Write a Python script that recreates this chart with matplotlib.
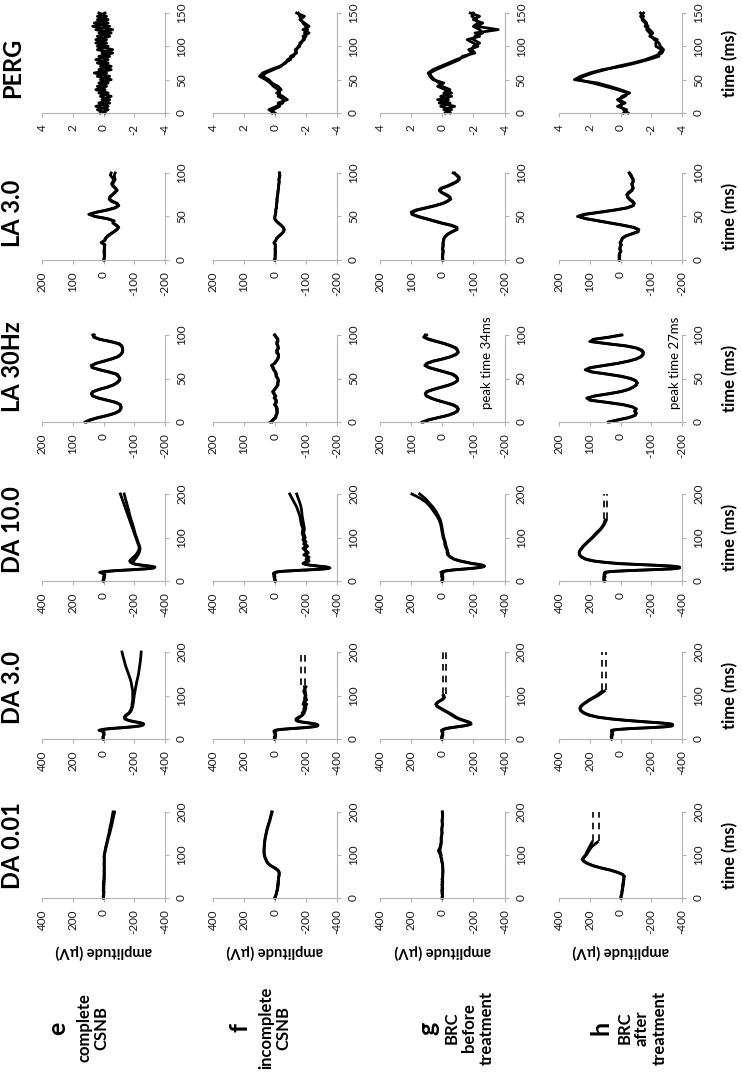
import numpy as np
import matplotlib.pyplot as plt

plt.rcParams['font.family'] = ['Lato', 'DejaVu Sans']
plt.rcParams['axes.unicode_minus'] = False

nan = np.nan

# protocols (one column each, drawn rotated) and patient groups
columns = ['PERG', 'LA 3.0', 'LA 30Hz', 'DA 10.0', 'DA 3.0', 'DA 0.01']
rows = ['e', 'f', 'g', 'h']
row_text = ['complete\nCSNB', 'incomplete\nCSNB', 'BRC\nbefore\ntreatment', 'BRC\nafter\ntreatment']

time_max = [150, 100, 100, 200, 200, 200]
time_step = [50, 50, 50, 100, 100, 100]
amp_max = [4, 200, 200, 400, 400, 400]

# time samples (ms)
t_perg = [0, 5, 10, 15, 20, 25, 30, 35, 40, 45, 50, 55, 60, 65, 70, 75, 80, 85, 90, 95,
          100, 105, 110, 115, 120, 125, 130, 135, 140, 145, 150]
t_la = [0, 2.5, 5, 7.5, 10, 12.5, 15, 17.5, 20, 22.5, 25, 27.5, 30, 32.5, 35, 37.5, 40, 42.5, 45, 47.5,
        50, 52.5, 55, 57.5, 60, 62.5, 65, 67.5, 70, 72.5, 75, 77.5, 80, 82.5, 85, 87.5, 90, 92.5, 95, 97.5, 100]
t_da = [0, 5, 10, 15, 18, 20, 22, 24, 26, 28, 30, 32, 34, 36, 38, 40, 43, 46, 50, 55,
        60, 65, 70, 75, 80, 85, 90, 95, 100, 110, 120, 130, 140, 150, 160, 170, 180, 190, 200]

# PERG (uV), two recordings per patient
perg_e1 = [0.2, -0.3, 0.5, -0.4, 0.1, -0.5, 0.3, -0.1, 0.4, -0.3, 0.2, -0.4, 0.6, -0.5, 0.2, -0.3,
           0.5, -0.4, 0.1, -0.6, 0.4, -0.2, 0.5, -0.4, 0.3, -0.6, 0.7, -0.3, 0.4, -0.2, 0.3]
perg_e2 = [-0.1, 0.4, -0.3, 0.3, -0.4, 0.2, -0.3, 0.5, -0.2, 0.3, -0.5, 0.4, -0.2, 0.3, -0.5, 0.4,
           -0.3, 0.3, -0.6, 0.4, -0.3, 0.5, -0.2, 0.4, -0.5, 0.5, -0.4, 0.6, -0.3, 0.4, -0.1]
perg_f1 = [0.0, 0.4, -0.1, -0.5, -0.6, -0.2, -0.3, -0.2, 0.1, 0.3, 0.6, 1.0, 0.8, 0.3, -0.3, -0.7,
           -0.8, -1.2, -1.3, -1.4, -1.5, -1.7, -1.8, -2.0, -1.9, -2.1, -2.0, -1.8, -1.7, -1.6, -1.5]
perg_f2 = [0.2, 0.1, -0.3, -0.2, -0.8, -0.5, -0.1, -0.4, -0.2, 0.2, 0.4, 0.8, 0.6, 0.1, -0.4, -0.6,
           -1.0, -1.0, -1.4, -1.3, -1.6, -1.6, -1.9, -1.8, -2.2, -1.8, -2.2, -1.9, -1.6, -1.9, -1.4]
perg_g1 = [-0.5, -0.1, -0.8, 0.2, -0.4, 0.1, -0.6, -0.2, 0.3, -0.1, 0.6, 0.8, 0.9, 0.6, 0.1, -0.4,
           -0.9, -1.5, -1.9, -1.7, -2.3, -2.0, -1.6, -2.4, -2.1, -3.6, -2.2, -2.6, -2.0, -2.4, -1.8]
perg_g2 = [-0.2, -0.6, 0.1, -0.5, 0.3, -0.6, -0.1, -0.5, 0.0, 0.2, 0.5, 0.7, 0.8, 0.4, -0.1, -0.6,
           -1.1, -1.3, -2.1, -1.9, -2.0, -2.4, -2.0, -2.1, -2.6, -2.4, -2.0, -2.3, -2.2, -1.9, -2.0]
perg_h1 = [-0.5, -0.2, 0.0, -0.1, 0.2, -0.3, -0.5, 0.2, 1.0, 1.8, 2.8, 2.4, 1.8, 1.0, 0.2, -0.8,
           -1.6, -2.2, -2.7, -2.8, -2.6, -2.5, -2.2, -2.0, -1.9, -1.7, -1.8, -1.6, -1.4, -1.5, -1.3]
perg_h2 = [-0.2, -0.4, 0.2, -0.3, 0.1, -0.1, -0.6, 0.0, 0.7, 1.5, 3.0, 2.6, 2.0, 1.2, -0.1, -1.0,
           -1.8, -2.5, -2.5, -2.7, -2.3, -2.3, -2.4, -1.9, -2.1, -1.9, -1.6, -1.7, -1.5, -1.3, -1.5]

# LA 3.0
la3_e1 = [-2, -3, -2, -4, -3, -2, -4, -3, 5, -5, -8, -15, -25, -35, -45, -48, -40, -32, -35, -10,
          30, 45, 20, -15, -40, -50, -42, -25, -18, -22, -30, -38, -42, -38, -30, -26, -30, -33, -28, -22, -25]
la3_e2 = [0, -2, -4, -2, -1, -4, -2, -5, 8, -3, -6, -12, -22, -33, -42, -50, -43, -30, -33, -14,
          25, 48, 24, -10, -36, -48, -45, -30, -20, -20, -28, -35, -45, -40, -33, -30, -34, -38, -36, -35, -38]
la3_f1 = [0, -1, 0, -2, 0, -1, -2, 0, 4, -2, -5, -12, -20, -27, -29, -26, -19, -10, -3, 2,
          1, -1, -2, -3, -4, -5, -5, -6, -7, -7, -8, -9, -10, -11, -12, -12, -13, -13, -14, -14, -15]
la3_f2 = [2, 0, -1, 0, -2, 0, -1, -2, 2, -3, -6, -14, -22, -28, -30, -27, -20, -12, -4, 0,
          0, -2, -3, -2, -5, -4, -6, -7, -6, -8, -9, -10, -10, -12, -11, -13, -14, -12, -15, -16, -14]
la3_g1 = [0, -2, 0, -3, -2, 0, -3, -2, -3, -4, -5, -10, -18, -30, -45, -48, -30, 0, 25, 50,
          75, 95, 100, 85, 55, 25, 0, -15, -25, -25, -15, 0, 10, 5, -15, -30, -45, -52, -55, -48, -35]
la3_g2 = [-3, 0, -2, -1, -4, -2, -1, -4, -2, -5, -6, -12, -20, -33, -48, -45, -25, 5, 30, 55,
          80, 98, 95, 78, 48, 20, -3, -18, -28, -22, -10, 3, 8, 0, -20, -35, -48, -55, -52, -45, -40]
la3_h1 = [5, 3, 5, 2, 0, 3, 0, -2, 0, -3, -5, -15, -35, -55, -60, -45, -10, 30, 70, 110,
          140, 120, 70, 20, -20, -40, -45, -40, -30, -25, -20, -25, -35, -40, -40, -38, -40, -42, -38, -35, -30]
la3_h2 = [2, 5, 2, 4, -2, 1, 2, -3, 2, -4, -7, -18, -38, -58, -57, -40, -5, 35, 75, 115,
          135, 112, 62, 14, -25, -42, -44, -36, -28, -22, -22, -30, -38, -42, -38, -36, -42, -40, -36, -32, -28]

# LA 30Hz flicker
la30_e1 = [60, 45, 20, -10, -35, -50, -55, -56, -55, -42, -15, 15, 35, 40, 35, 15, -10, -30, -42, -50,
           -52, -50, -45, -20, 10, 35, 40, 25, 0, -25, -45, -55, -60, -62, -62, -60, -52, -25, 10, 30, 35]
la30_e2 = [55, 40, 15, -15, -38, -52, -57, -58, -54, -38, -10, 18, 36, 38, 32, 12, -14, -33, -45, -52,
           -54, -48, -40, -15, 14, 38, 38, 22, -4, -28, -48, -57, -62, -63, -61, -58, -48, -20, 14, 32, 30]
la30_f1 = [15, 5, -3, -2, -8, -5, -8, -3, 0, -5, -2, 0, -3, 5, 8, 0, -5, -8, -10, -12,
           -8, -3, -5, 0, 3, 5, 12, 0, -5, -8, -12, -10, -5, -8, -12, -8, -5, -10, -8, -3, 0]
la30_f2 = [10, 8, 0, -5, -5, -8, -4, -6, 2, -2, -5, 3, 0, 2, 5, 2, -3, -10, -8, -10,
           -10, -5, -2, -3, 5, 8, 10, 2, -3, -10, -10, -12, -8, -5, -10, -10, -7, -6, -10, -5, 2]
la30_g1 = [65, 45, 15, -15, -35, -48, -52, -48, -35, -10, 15, 35, 50, 55, 50, 30, 5, -20, -38, -48,
           -50, -45, -35, -10, 15, 40, 55, 50, 30, 0, -25, -42, -50, -50, -45, -30, -10, 15, 40, 58, 55]
la30_g2 = [60, 42, 12, -18, -38, -50, -50, -45, -30, -6, 18, 38, 52, 54, 47, 26, 1, -24, -40, -50,
           -48, -42, -30, -6, 20, 44, 56, 47, 26, -4, -28, -45, -52, -48, -42, -26, -6, 20, 45, 60, 50]
la30_h1 = [40, 10, -25, -45, -52, -48, -50, -40, -10, 40, 95, 110, 85, 40, 0, -25, -40, -50, -55, -50,
           -35, -5, 40, 90, 115, 100, 55, 10, -25, -50, -65, -72, -75, -70, -55, -20, 40, 95, 90, 40, 0]
la30_h2 = [35, 5, -28, -48, -50, -45, -52, -36, -5, 45, 100, 108, 80, 35, -4, -28, -42, -52, -54, -48,
           -30, 0, 45, 95, 112, 95, 50, 6, -28, -53, -68, -74, -73, -66, -50, -14, 46, 100, 85, 35, -5]

# DA 10.0
da10_e1 = [0, -5, 0, -10, 10, 25, -10, -80, -180, -270, -320, -335, -310, -260, -220, -190, -175, -170, -180, -195,
           -210, -220, -228, -232, -230, -225, -220, -215, -210, -200, -190, -180, -170, -160, -150, -140, -130, -120, -110]
da10_e2 = [5, 0, -8, -5, 5, 15, -20, -95, -200, -285, -330, -330, -300, -250, -215, -195, -190, -195, -205, -215,
           -225, -232, -236, -238, -235, -230, -225, -220, -215, -205, -198, -190, -180, -172, -165, -158, -150, -142, -135]
da10_f1 = [0, 5, 0, 10, 5, 0, -30, -120, -230, -320, -355, -340, -290, -240, -200, -180, -190, -210, -200, -220,
           -185, -205, -195, -180, -200, -185, -190, -180, -185, -175, -180, -170, -165, -160, -150, -140, -125, -110, -95]
da10_f2 = [-5, 0, 8, 0, 10, -5, -40, -140, -250, -330, -350, -330, -280, -230, -195, -190, -205, -220, -215, -205,
           -200, -215, -200, -195, -210, -195, -200, -190, -195, -185, -190, -185, -180, -175, -172, -168, -160, -150, -140]
da10_g1 = [0, -5, 5, 0, -5, 10, -5, -30, -80, -150, -210, -250, -270, -265, -240, -200, -160, -120, -80, -50,
           -35, -30, -35, -25, -20, -15, -20, -10, -5, 0, 5, 10, 20, 35, 55, 75, 100, 140, 195]
da10_g2 = [5, 0, -5, 5, 0, 0, -10, -40, -95, -165, -225, -260, -272, -258, -230, -190, -150, -110, -75, -55,
           -40, -38, -30, -30, -25, -22, -15, -15, -10, -5, 0, 5, 12, 25, 40, 60, 85, 110, 145]
da10_h1 = [110, 105, 110, 100, 105, 100, 60, -50, -200, -330, -380, -385, -350, -250, -120, 0, 100, 170, 220, 250,
           265, 270, 265, 255, 245, 230, 215, 200, 185, 160, 130, 110, 100, nan, nan, nan, nan, nan, nan]
da10_h2 = [100, 110, 100, 108, 98, 102, 50, -70, -220, -345, -385, -375, -330, -230, -100, 20, 110, 180, 228, 255,
           268, 268, 262, 250, 240, 225, 210, 195, 180, 152, 125, 105, 92, nan, nan, nan, nan, nan, nan]

# DA 3.0
da3_e1 = [0, 5, -5, 0, 10, 30, 10, -40, -110, -180, -230, -250, -260, -255, -235, -200, -165, -140, -135, -145,
          -165, -175, -180, -185, -185, -188, -190, -190, -190, -190, -185, -180, -172, -162, -152, -142, -135, -127, -120]
da3_e2 = [5, 0, 0, -5, 5, 20, 0, -55, -130, -195, -240, -258, -262, -250, -225, -190, -160, -140, -140, -152,
          -170, -180, -185, -190, -192, -195, -196, -198, -200, -205, -210, -215, -222, -228, -232, -236, -240, -243, -245]
da3_f1 = [0, 5, -5, 5, 0, -5, -30, -100, -180, -240, -270, -278, -270, -240, -200, -160, -140, -135, -150, -180,
          -175, -195, -185, -200, -180, -195, -190, -200, -195, -185, -200, nan, nan, nan, nan, nan, nan, nan, nan]
da3_f2 = [5, -5, 0, -3, 8, 0, -40, -115, -195, -250, -275, -275, -260, -230, -190, -150, -135, -145, -160, -175,
          -190, -185, -200, -190, -205, -185, -205, -190, -200, -195, -190, nan, nan, nan, nan, nan, nan, nan, nan]
da3_g1 = [0, 5, 0, -5, 0, 5, -5, -20, -50, -90, -130, -160, -180, -185, -180, -165, -140, -115, -90, -70,
          -45, -20, 5, 30, 40, 30, 5, -10, -5, nan, nan, nan, nan, nan, nan, nan, nan, nan, nan]
da3_g2 = [5, 0, -5, 0, 5, 0, -10, -30, -60, -100, -140, -168, -185, -182, -172, -155, -130, -105, -82, -60,
          -38, -12, 12, 35, 42, 25, 0, -15, -10, nan, nan, nan, nan, nan, nan, nan, nan, nan, nan]
da3_h1 = [60, 55, 60, 50, 60, 55, 20, -60, -180, -280, -330, -340, -338, -300, -230, -150, -40, 50, 140, 200,
          235, 255, 265, 260, 245, 225, 205, 180, 155, 120, nan, nan, nan, nan, nan, nan, nan, nan, nan]
da3_h2 = [55, 62, 50, 58, 52, 60, 10, -75, -200, -295, -335, -338, -330, -285, -210, -130, -25, 65, 150, 210,
          242, 260, 262, 255, 240, 218, 198, 172, 145, 105, nan, nan, nan, nan, nan, nan, nan, nan, nan]

# DA 0.01
da001_e1 = [0, 2, -3, 0, 2, -2, 0, -3, 2, -2, 0, -3, 2, -4, 0, -2, -5, -3, -5, -3,
            -4, -6, -4, -5, -3, -6, -4, -5, -5, -10, -15, -22, -28, -35, -40, -46, -52, -57, -62]
da001_e2 = [3, -2, 0, -4, -1, 2, -3, 0, -2, 1, -4, 0, -2, -1, -5, -3, -2, -6, -3, -7,
            -5, -3, -7, -4, -6, -4, -7, -3, -6, -12, -18, -25, -32, -40, -47, -54, -60, -66, -72]
da001_f1 = [0, -5, -8, -12, -14, -15, -16, -17, -18, -18, -19, -20, -20, -20, -21, -21, -22, -23, -24, -26,
            -28, -20, 0, 25, 42, 52, 58, 64, 68, 70, 70, 68, 64, 58, 52, 44, 35, 28, 22]
da001_f2 = [3, -3, -10, -10, -16, -13, -18, -15, -20, -16, -21, -18, -22, -19, -23, -20, -24, -21, -26, -28,
            -25, -15, 5, 28, 45, 55, 60, 66, 70, 72, 68, 66, 62, 56, 50, 42, 33, 26, 18]
da001_g1 = [0, -3, 2, -2, 3, 0, -4, 2, -3, 0, 3, -2, 0, -4, 2, -2, 0, -3, -2, -4,
            -3, -5, -2, -4, 0, 2, 5, 8, 12, 25, 12, 8, 5, 3, 2, 0, 0, -2, 0]
da001_g2 = [2, 0, -2, 3, -1, 2, 0, -3, 1, -2, 0, 2, -3, 1, -1, -4, 2, 0, -4, -2,
            -5, -3, -4, -1, -3, 4, 2, 10, 6, 15, 10, 5, 8, 0, 4, -2, 2, -3, -2]
da001_h1 = [0, -5, -8, -10, -12, -12, -13, -14, -15, -15, -16, -17, -18, -18, -19, -20, -21, -22, -24, -10,
            25, 70, 130, 180, 215, 240, 250, 240, 228, 215, 200, 185, nan, nan, nan, nan, nan, nan, nan]
da001_h2 = [-5, -3, -10, -8, -14, -10, -15, -12, -17, -13, -18, -15, -20, -16, -22, -18, -23, -20, -26, -15,
            20, 65, 125, 175, 210, 235, 245, 235, 222, 205, 185, 150, nan, nan, nan, nan, nan, nan, nan]

times = {'PERG': t_perg, 'LA 3.0': t_la, 'LA 30Hz': t_la,
         'DA 10.0': t_da, 'DA 3.0': t_da, 'DA 0.01': t_da}
traces = {
    'PERG': [(perg_e1, perg_e2), (perg_f1, perg_f2), (perg_g1, perg_g2), (perg_h1, perg_h2)],
    'LA 3.0': [(la3_e1, la3_e2), (la3_f1, la3_f2), (la3_g1, la3_g2), (la3_h1, la3_h2)],
    'LA 30Hz': [(la30_e1, la30_e2), (la30_f1, la30_f2), (la30_g1, la30_g2), (la30_h1, la30_h2)],
    'DA 10.0': [(da10_e1, da10_e2), (da10_f1, da10_f2), (da10_g1, da10_g2), (da10_h1, da10_h2)],
    'DA 3.0': [(da3_e1, da3_e2), (da3_f1, da3_f2), (da3_g1, da3_g2), (da3_h1, da3_h2)],
    'DA 0.01': [(da001_e1, da001_e2), (da001_f1, da001_f2), (da001_g1, da001_g2), (da001_h1, da001_h2)],
}

# traces that continue off the recording (dashed)
dash_col = ['DA 10.0', 'DA 3.0', 'DA 3.0', 'DA 3.0', 'DA 0.01']
dash_row = [3, 1, 2, 3, 3]
dash_start = [142, 125, 103, 113, 133]
dash_amp = [(105, 88), (-170, -195), (-5, -25), (120, 95), (182, 140)]

peak_row = [2, 3]
peak_text = ['peak time 34ms', 'peak time 27ms']

# ---- layout (pixels of the 743 x 1075 figure, drawn rotated by 90 degrees) ----
W, H = 743, 1075
col_y = [(13, 113), (173, 260), (335, 422), (494, 581), (652, 739), (812, 898)]
row_x = [(42, 165), (213, 337), (380, 504.5), (559, 682)]
title_y = [68, 213, 367, 530, 688, 846]
letter_x = [58, 240, 428, 601]
rowtext_x = [93, 275, 469, 642]
peak_pos = [(-145, 68), (-176, 68)]
GREY = '#b4b4b4'

fig = plt.figure(figsize=(W / 100, H / 100), dpi=100)


def fx(x):
    return x / W


def fy(y):
    return 1 - y / H


for c, name in enumerate(columns):
    ytop, ybot = col_y[c]
    tmax, amax = time_max[c], amp_max[c]
    for r in range(4):
        x0, x1 = row_x[r]
        ax = fig.add_axes([fx(x0), fy(ybot), (x1 - x0) / W, (ybot - ytop) / H])
        ax.patch.set_visible(False)
        for a in traces[name][r]:
            ax.plot(a, times[name], color='black', lw=2.0, solid_joinstyle='round', clip_on=False)
        for k in range(len(dash_col)):
            if dash_col[k] == name and dash_row[k] == r:
                for a in dash_amp[k]:
                    ax.plot([a, a], [dash_start[k], tmax], color='black', lw=1.2,
                            linestyle=(0, (4, 3)), clip_on=False)
        if name == 'LA 30Hz' and r in peak_row:
            i = peak_row.index(r)
            ax.text(peak_pos[i][0], peak_pos[i][1], peak_text[i], rotation=90,
                    ha='center', va='center', fontsize=9.5, color='black')

        ax.set_xlim(amax, -amax)
        ax.set_ylim(0, tmax)
        xt = [amax, amax // 2, 0, -(amax // 2), -amax]
        ax.set_xticks(xt)
        ax.set_xticklabels([str(v) for v in xt])
        yt = list(range(0, tmax + 1, time_step[c]))
        ax.set_yticks(yt)
        ax.set_yticklabels([str(v) for v in yt])
        ax.yaxis.tick_right()
        ax.tick_params(axis='both', colors=GREY, labelcolor='#1a1a1a', labelsize=8.5,
                       length=3, width=0.8, pad=5, labelrotation=90)
        for lab in ax.get_yticklabels():
            lab.set_va('center')
        for side in ['top', 'left']:
            ax.spines[side].set_visible(False)
        for side in ['bottom', 'right']:
            ax.spines[side].set_color(GREY)
            ax.spines[side].set_linewidth(0.8)

    fig.text(fx(13), fy(title_y[c]), name, rotation=90, ha='center', va='center',
             fontsize=17, fontweight='bold')
    fig.text(fx(730), fy((ytop + ybot) / 2), 'time (ms)', rotation=90, ha='center',
             va='center', fontsize=12, fontweight='bold')

for r in range(4):
    x0, x1 = row_x[r]
    fig.text(fx((x0 + x1) / 2), fy(952), 'amplitude (µV)', rotation=180, ha='center',
             va='center', fontsize=10.5, fontweight='bold')
    fig.text(fx(letter_x[r]), fy(1028), rows[r], rotation=90, ha='center', va='center',
             fontsize=18, fontweight='bold')
    fig.text(fx(rowtext_x[r]), fy(1028), row_text[r], rotation=90, ha='center', va='center',
             multialignment='center', linespacing=1.1, fontsize=12, fontweight='bold')

fig.savefig('out.png', dpi=100)
